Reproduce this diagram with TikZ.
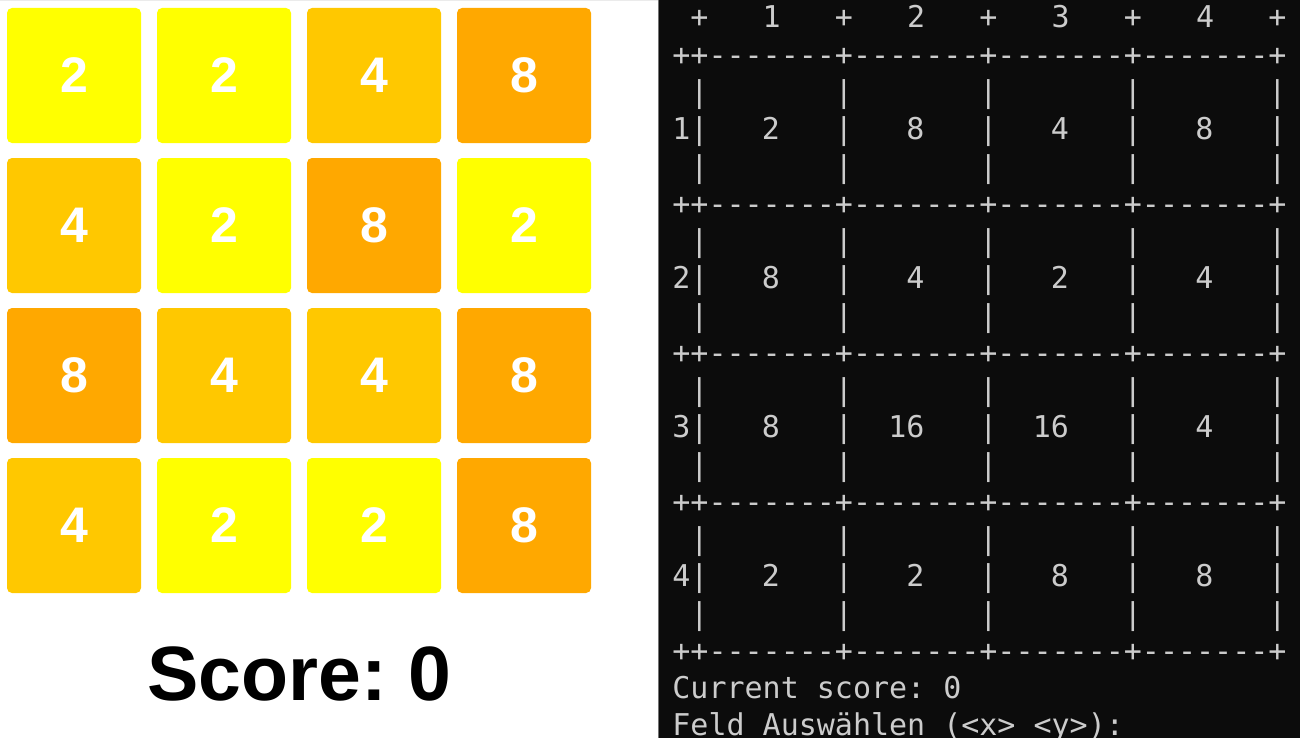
\documentclass[tikz,border=0pt]{standalone}
\usepackage{fontspec}
\setmainfont{Liberation Sans}
\setmonofont{DejaVu Sans Mono}
\frenchspacing
\definecolor{tiletwo}{HTML}{FFFF00}
\definecolor{tilefour}{HTML}{FFC800}
\definecolor{tileeight}{HTML}{FFA800}
\definecolor{termbg}{HTML}{0C0C0C}
\definecolor{termfg}{HTML}{CCCCCC}
\tikzset{
  tile/.style={minimum width=67pt, minimum height=67.5pt, inner sep=0pt,
    rounded corners=2.5pt, text=white, font=\bfseries\fontsize{25}{25}\selectfont},
  term/.style={anchor=base west, inner sep=0pt, text=termfg,
    font=\ttfamily\fontsize{15}{15}\selectfont},
  cell/.style={term, anchor=base east}
}
\begin{document}
\begin{tikzpicture}[x=0.5pt,y=-0.5pt]
  \useasboundingbox (0,0) rectangle (1300,738);
  \fill[white] (0,0) rectangle (658,738);
  \draw[black!8] (0,0.5) -- (658,0.5);
  % game board
  \foreach \row/\vals in {0/{2,2,4,8},1/{4,2,8,2},2/{8,4,4,8},3/{4,2,2,8}}
    \foreach \v [count=\col from 0] in \vals {
      \ifnum\v=2 \def\tc{tiletwo}\fi
      \ifnum\v=4 \def\tc{tilefour}\fi
      \ifnum\v=8 \def\tc{tileeight}\fi
      \node[tile, fill=\tc] (t\row\col) at ({74+150*\col},{75.5+150*\row}) {\v};
    }
  \node[anchor=base, font=\bfseries\fontsize{38.5}{38.5}\selectfont] (score) at (299,700) {Score: 0};
  % terminal
  \fill[termbg] (658,0) rectangle (1300,738);
  \draw[black!55] (658.5,0) -- (658.5,738);
  \node[term] (head) at (672,28) {~+~~~1~~~+~~~2~~~+~~~3~~~+~~~4~~~+};
  \foreach \k in {0,...,4}
    \node[term] (sep\k) at (672,{28+37.25*(1+4*\k)}) {++-------+-------+-------+-------+};
  \foreach \r/\vals in {1/{2,8,4,8},2/{8,4,2,4},3/{8,16,16,4},4/{2,2,8,8}} {
    \node[term] (bar\r a) at (672,{28+37.25*(4*\r-2)}) {~|~~~~~~~|~~~~~~~|~~~~~~~|~~~~~~~|};
    \node[term] (line\r) at (672,{28+37.25*(4*\r-1)}) {\r|~~~~~~~|~~~~~~~|~~~~~~~|~~~~~~~|};
    \node[term] (bar\r b) at (672,{28+37.25*(4*\r)}) {~|~~~~~~~|~~~~~~~|~~~~~~~|~~~~~~~|};
    \foreach \v [count=\c from 0] in \vals
      \node[cell] (v\r\c) at ({672+18.06*(6+8*\c)},{28+37.25*(4*\r-1)}) {\v};
  }
  \node[term] (cur) at (672,{28+37.25*18}) {Current score: 0};
  \node[term] (ask) at (672,{28+37.25*19}) {Feld Auswählen (<x> <y>):};
\end{tikzpicture}
\end{document}
